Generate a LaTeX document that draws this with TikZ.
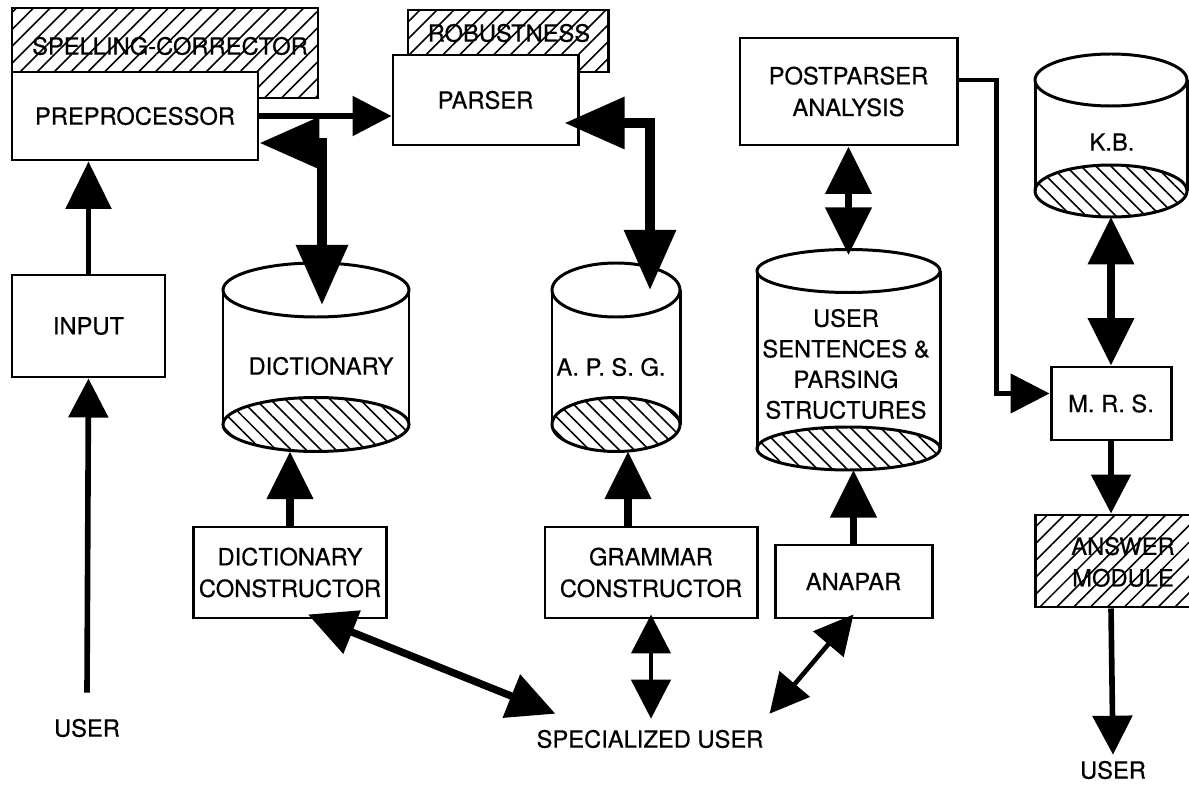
\documentclass[tikz,border=0pt]{standalone}
\usepackage{fontspec}
\setmainfont{TeX Gyre Heros}
\usetikzlibrary{arrows.meta, patterns.meta}

% drum-shaped store: name, centre x, top y, bottom y, x radius, y radius
\newcommand{\drum}[6]{%
  \fill[white] (#2-#5,#3) rectangle (#2+#5,#4);
  \draw[drumline, pattern={Lines[angle=-45,distance=6pt,line width=0.9pt]}]
    (#2,#4) ellipse [x radius=#5, y radius=#6];
  \draw[drumline] (#2-#5,#3) -- (#2-#5,#4) (#2+#5,#3) -- (#2+#5,#4);
  \draw[drumline, fill=white] (#2,#3) ellipse [x radius=#5, y radius=#6];
  \coordinate (#1-top) at (#2,#3);
  \coordinate (#1-bot) at (#2,#4+#6);
}
\newcommand{\figfont}{\fontsize{13.5}{18}\selectfont\addfontfeature{FakeBold=0.5}}

\begin{document}
\begin{tikzpicture}[
  x=0.2cm, y=-0.2cm,
  box/.style={
    rectangle, draw=black, fill=white, line width=1.7pt,
    align=center, font=\figfont
  },
  hatchbox/.style={
    rectangle, draw=black, line width=1.7pt,
    pattern={Lines[angle=45,distance=6.8pt,line width=0.9pt]}
  },
  drumline/.style={line width=1.7pt},
  lbl/.style={align=center, font=\figfont},
  bigtip/.tip={Triangle[length=1.2cm, width=1.0cm]},
  midtip/.tip={Triangle[length=0.95cm, width=0.9cm]},
  smalltip/.tip={Triangle[length=0.78cm, width=0.78cm]},
  heavy/.style={line width=5.4pt},
  medium/.style={line width=4.2pt},
  light/.style={line width=3.2pt},
  fine/.style={line width=2.6pt}
]
\useasboundingbox (0,0) rectangle (118.9,78.5);

% Hatched add-on modules (behind their boxes)
\node[hatchbox, minimum width=6.12cm, minimum height=1.8cm] (spell) at (16.5,5.3) {};
\node[lbl] (spelltxt) at (17.0,4.6) {SPELLING-CORRECTOR};
\node[hatchbox, minimum width=4.0cm, minimum height=1.24cm] (robust) at (50.8,4.1) {};
\node[lbl] (robusttxt) at (50.9,3.3) {ROBUSTNESS};

% Top row
\node[box, minimum width=4.92cm, minimum height=1.76cm] (preproc) at (13.5,11.6) {PREPROCESSOR};
\node[box, minimum width=3.7cm, minimum height=1.8cm] (parser) at (48.55,10.0) {PARSER};
\node[box, minimum width=4.34cm, minimum height=2.14cm] (postparser) at (84.85,9.15)
  {POSTPARSER\\ANALYSIS};

% Stores
\drum{dict}{31.6}{29.0}{42.45}{9.3}{2.7}
\drum{apsg}{61.6}{29.0}{42.45}{6.4}{2.7}
\drum{usent}{84.85}{27.1}{44.85}{9.15}{2.15}
\drum{kb}{111.1}{8.0}{19.1}{7.6}{2.6}
\node[lbl] (dict) at (32.1,36.6) {DICTIONARY};
\node[lbl] (apsg) at (61.1,36.7) {A. P. S. G.};
\node[lbl, font=\fontsize{13.5}{17.4}\selectfont\addfontfeature{FakeBold=0.5}] (usent) at (84.6,36.4)
  {USER\\SENTENCES \&\\PARSING\\STRUCTURES};
\node[lbl] (kb) at (111.2,14.2) {K.B.};

% Left column
\node[box, minimum width=3.06cm, minimum height=2.04cm] (input) at (8.85,32.6) {INPUT};
\node[lbl] (user1) at (8.7,72.8) {USER};

% Right column
\node[box, minimum width=2.4cm, minimum height=1.46cm] (mrs) at (111.1,40.35) {M. R. S.};
\node[hatchbox, minimum width=3.14cm, minimum height=1.84cm] (answer) at (111.35,56.1) {};
\node[lbl] (answertxt) at (112.3,56.2) {ANSWER\\MODULE};
\node[lbl] (user2) at (111.3,77.0) {USER};

% Bottom row
\node[box, minimum width=3.0cm, minimum height=1.82cm] (dictc) at (29.0,57.25)
  {DICTIONARY\\CONSTRUCTOR};
\node[box, minimum width=4.24cm, minimum height=1.82cm] (gramc) at (65.1,57.25)
  {GRAMMAR\\CONSTRUCTOR};
\node[box, minimum width=3.14cm, minimum height=1.46cm] (anapar) at (85.35,58.15) {ANAPAR};
\node[lbl] (spec) at (65.0,73.9) {SPECIALIZED USER};

% Arrows, top row
\draw[light, -smalltip] (preproc.east) -- (preproc.east -| parser.west);
\draw[heavy, bigtip-bigtip] ([yshift=-5.4mm]preproc.east) -| ([xshift=1.2mm,yshift=-3mm]dict-top);
\draw[heavy, bigtip-bigtip] ([xshift=-3mm,yshift=-4.6mm]parser.east) -| ([xshift=6.8mm]apsg-top);
\draw[medium, midtip-midtip] (postparser.south) -- ([yshift=1.6mm]usent-top |- 0,26.3);
\draw[fine, -smalltip] ([yshift=2.3mm]postparser.east) -- ++(3.8,0) |- ([yshift=2mm]mrs.west);
\draw[medium, midtip-midtip] (kb-bot) -- (kb-bot |- mrs.north);

% Arrows, left and right columns
\draw[light, -midtip] (input.north) -- (input.north |- preproc.south);
\draw[light, -smalltip] ([yshift=4mm]user1.north) -- (input.south);
\draw[light, -smalltip] (mrs.south) -- (mrs.south |- answer.north);
\draw[light, -smalltip] (mrs.south |- answer.south) -- (user2.north);

% Arrows, constructors
\draw[medium, -midtip] (dictc.north) -- (dictc.north |- dict-bot);
\draw[medium, -midtip] ([xshift=-4.6mm]gramc.north) -- ([xshift=-4.6mm]gramc.north |- apsg-bot);
\draw[medium, -midtip] (anapar.north) -- (anapar.north |- usent-bot);
\draw[medium, midtip-midtip] ([xshift=3.6mm,yshift=1mm]dictc.south) -- ([xshift=5mm,yshift=2mm]spec.north west);
\draw[fine, smalltip-smalltip] ([yshift=1mm]gramc.south) -- ([yshift=1mm]gramc.south |- spec.north);
\draw[fine, smalltip-smalltip] ([yshift=1mm]anapar.south) -- ([yshift=2mm]spec.north east);

\end{tikzpicture}
\end{document}
